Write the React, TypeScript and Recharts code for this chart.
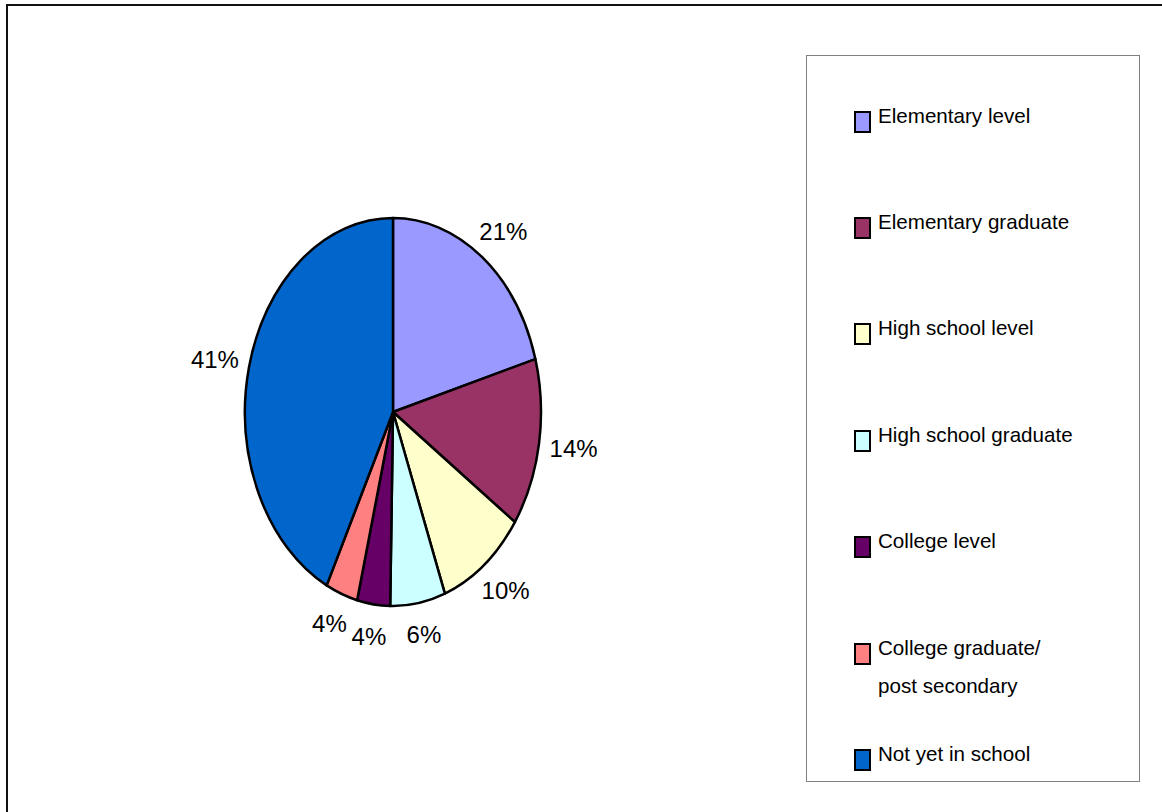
import React from "react";
import { PieChart, Pie, Cell, Legend } from "recharts";

const categories = [
  "Elementary level",
  "Elementary graduate",
  "High school level",
  "High school graduate",
  "College level",
  "College graduate/\npost secondary",
  "Not yet in school",
];
// slice sizes as drawn (share of the full turn, %)
const shares = [20.6, 14.0, 9.7, 6.0, 3.6, 3.5, 42.6];
const pctLabels = ["21%", "14%", "10%", "6%", "4%", "4%", "41%"];
const colors = ["#9999FF", "#993366", "#FFFFCC", "#CCFFFF", "#660066", "#FF8080", "#0066CC"];

const data = categories.map((name, i) => ({ name, value: shares[i], label: pctLabels[i] }));

const FONT = '"Liberation Sans", Arial, Helvetica, sans-serif';
const RX = 148;
const RY_RATIO = 194 / 148; // the pie is drawn as a tall ellipse
const RAD = Math.PI / 180;

function EllipseSector(props: any) {
  const { cx, cy, outerRadius, startAngle, endAngle, fill, stroke, strokeWidth } = props;
  const rx = outerRadius;
  const ry = outerRadius * RY_RATIO;
  const x1 = cx + rx * Math.cos(startAngle * RAD);
  const y1 = cy - ry * Math.sin(startAngle * RAD);
  const x2 = cx + rx * Math.cos(endAngle * RAD);
  const y2 = cy - ry * Math.sin(endAngle * RAD);
  const large = Math.abs(endAngle - startAngle) > 180 ? 1 : 0;
  const sweep = startAngle > endAngle ? 1 : 0;
  const d = `M${cx},${cy} L${x1},${y1} A${rx},${ry} 0 ${large} ${sweep} ${x2},${y2} Z`;
  return <path d={d} fill={fill} stroke={stroke} strokeWidth={strokeWidth} strokeLinejoin="round" />;
}

function renderLabel(props: any) {
  const { cx, cy, midAngle, outerRadius, index } = props;
  const rx = outerRadius;
  const ry = outerRadius * RY_RATIO;
  const x = cx + (rx + 35) * Math.cos(midAngle * RAD);
  const y = cy - (ry + 32) * Math.sin(midAngle * RAD);
  return (
    <text
      x={x}
      y={y}
      textAnchor="middle"
      dominantBaseline="central"
      fontSize={24}
      fontFamily={FONT}
      fill="#000"
    >
      {pctLabels[index]}
    </text>
  );
}

function LegendBox() {
  return (
    <div
      style={{
        boxSizing: "border-box",
        width: 334,
        height: 727,
        border: "1px solid #808080",
        background: "#fff",
        paddingTop: 40.7,
        fontFamily: FONT,
      }}
    >
      {categories.map((name, i) => (
        <div key={name} style={{ position: "relative", height: 106.4 }}>
          <div
            style={{
              position: "absolute",
              left: 47,
              top: 14,
              width: 17,
              height: 22,
              boxSizing: "border-box",
              border: "2px solid #000",
              background: colors[i],
            }}
          />
          <div
            style={{
              position: "absolute",
              left: 71,
              top: 0,
              fontSize: 20.6,
              lineHeight: "38px",
              color: "#000",
              whiteSpace: "pre",
            }}
          >
            {name}
          </div>
        </div>
      ))}
    </div>
  );
}

export default function App() {
  return (
    <div style={{ position: "absolute", left: 0, top: 0, width: 1162, height: 812, background: "#fff", overflow: "hidden" }}>
      <div
        style={{
          position: "absolute",
          left: 6,
          top: 4,
          width: 1200,
          height: 900,
          borderTop: "2px solid #111",
          borderLeft: "2px solid #111",
        }}
      />
      <div style={{ position: "absolute", left: 0, top: 0 }}>
        <PieChart width={1162} height={812} margin={{ top: 0, right: 0, bottom: 0, left: 0 }}>
          <Pie
            data={data}
            dataKey="value"
            nameKey="name"
            cx={393}
            cy={412}
            outerRadius={RX}
            startAngle={90}
            endAngle={-270}
            stroke="#000"
            strokeWidth={2.5}
            label={renderLabel}
            labelLine={false}
            shape={EllipseSector}
            isAnimationActive={false}
          >
            {data.map((d, i) => (
              <Cell key={d.name} fill={colors[i]} />
            ))}
          </Pie>
          <Legend
            layout="vertical"
            align="right"
            verticalAlign="top"
            content={<LegendBox />}
            wrapperStyle={{ left: 806, top: 55, width: 334, height: 727 }}
          />
        </PieChart>
      </div>
    </div>
  );
}
